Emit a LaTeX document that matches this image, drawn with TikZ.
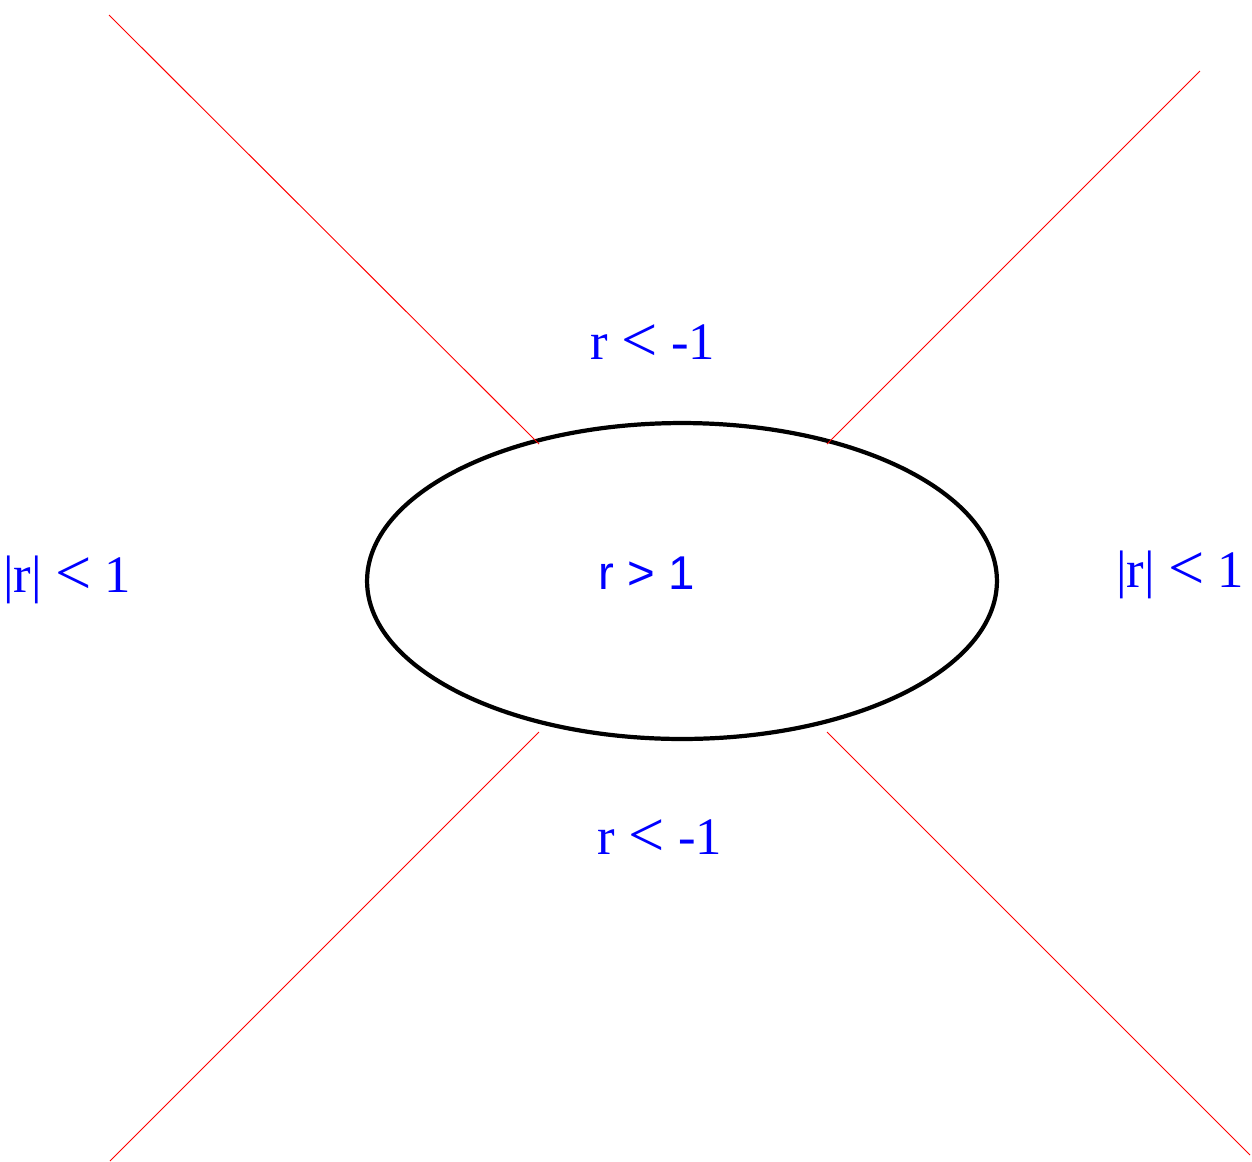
\documentclass[tikz,border=0pt]{standalone}
\usepackage{fontspec}
\usepackage{graphicx}
\setmainfont{Liberation Serif}
\newfontfamily\labelsans{Liberation Sans}
\usetikzlibrary{shapes.geometric}
\newcommand{\lessrel}{\raisebox{-0.04em}{\scalebox{1.22}{<}}}

\begin{document}
\begin{tikzpicture}[x=0.02cm, y=-0.02cm,
    region/.style={text=blue, font=\fontsize{30}{36}\selectfont, inner sep=0pt},
    branch/.style={red, line width=0.55pt}]
  \useasboundingbox (0,0) rectangle (1252,1161);

  \node[draw, ellipse, line width=2.4pt, inner sep=0pt,
        minimum width=12.6cm, minimum height=6.32cm] (oval) at (682,581) {};

  \node[region] (top) at (653,343) {r \lessrel{} -1};
  \node[region, font=\labelsans\fontsize{27}{32}\selectfont] (inside) at (647,573) {r > 1};
  \node[region] (left) at (67,580) {|r| \lessrel{} 1};
  \node[region] (right) at (1180,575) {|r| \lessrel{} 1};
  \node[region] (bottom) at (660,838) {r \lessrel{} -1};

  % ends of the four red lines
  \coordinate (nw) at (109,15);
  \coordinate (nwin) at (539,444);
  \coordinate (ne) at (1200,71);
  \coordinate (nein) at (827,444);
  \coordinate (sw) at (110,1161);
  \coordinate (swin) at (539,732);
  \coordinate (se) at (1250,1155);
  \coordinate (sein) at (827,732);

  \draw[branch] (nw) -- (nwin);
  \draw[branch] (ne) -- (nein);
  \draw[branch] (sw) -- (swin);
  \draw[branch] (se) -- (sein);
\end{tikzpicture}
\end{document}
